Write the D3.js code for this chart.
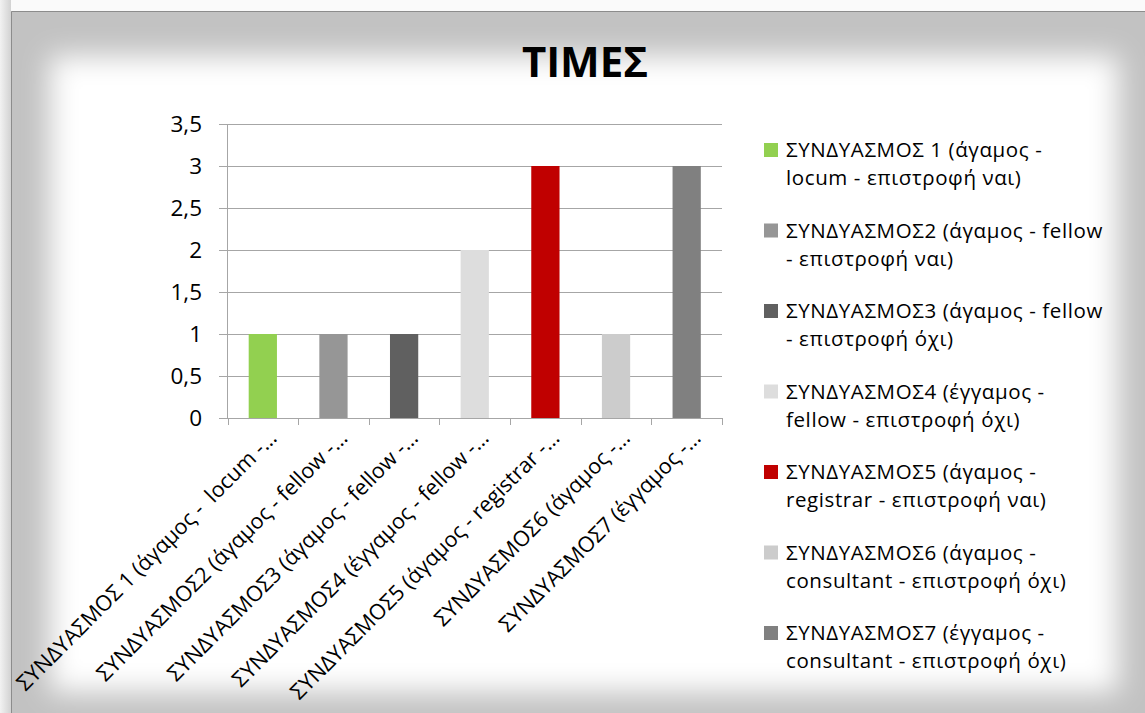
<!DOCTYPE html>
<html>
<head>
<meta charset="utf-8">
<script src="https://cdn.jsdelivr.net/npm/d3@7"></script>
<style>
  body { margin: 0; background: #fff; }
  svg { display: block; font-family: "Open Sans", "Noto Sans", sans-serif; }
</style>
</head>
<body>
<div id="chart"></div>
<script>
const W = 1145, H = 713;

// données
const categories = [
  "ΣΥΝΔΥΑΣΜΟΣ 1 (άγαμος -  locum -…",
  "ΣΥΝΔΥΑΣΜΟΣ2 (άγαμος - fellow -…",
  "ΣΥΝΔΥΑΣΜΟΣ3 (άγαμος - fellow -…",
  "ΣΥΝΔΥΑΣΜΟΣ4 (έγγαμος - fellow -…",
  "ΣΥΝΔΥΑΣΜΟΣ5 (άγαμος - registrar -…",
  "ΣΥΝΔΥΑΣΜΟΣ6 (άγαμος -…",
  "ΣΥΝΔΥΑΣΜΟΣ7 (έγγαμος -…"
];
const values = [1, 1, 1, 2, 3, 1, 3];
const colors = ["#92D050", "#969696", "#606060", "#DDDDDD", "#C00000", "#CCCCCC", "#808080"];
const legendLabels = [
  ["ΣΥΝΔΥΑΣΜΟΣ 1 (άγαμος -", "locum - επιστροφή ναι)"],
  ["ΣΥΝΔΥΑΣΜΟΣ2 (άγαμος - fellow", "- επιστροφή ναι)"],
  ["ΣΥΝΔΥΑΣΜΟΣ3 (άγαμος - fellow", "- επιστροφή όχι)"],
  ["ΣΥΝΔΥΑΣΜΟΣ4 (έγγαμος -", "fellow - επιστροφή όχι)"],
  ["ΣΥΝΔΥΑΣΜΟΣ5 (άγαμος -", "registrar - επιστροφή ναι)"],
  ["ΣΥΝΔΥΑΣΜΟΣ6 (άγαμος -", "consultant - επιστροφή όχι)"],
  ["ΣΥΝΔΥΑΣΜΟΣ7 (έγγαμος -", "consultant - επιστροφή όχι)"]
];
const yTicks = [0, 0.5, 1, 1.5, 2, 2.5, 3, 3.5];
const title = "ΤΙΜΕΣ";

const svg = d3.select("#chart").append("svg")
  .attr("width", W)
  .attr("height", H);

// cadre avec ombre intérieure
const defs = svg.append("defs");
defs.append("filter").attr("id", "soft")
  .attr("x", "-10%").attr("y", "-10%").attr("width", "120%").attr("height", "120%")
  .append("feGaussianBlur").attr("stdDeviation", 14);
const side = defs.append("linearGradient").attr("id", "side");
side.append("stop").attr("offset", "0%").attr("stop-color", "#f2f2f2");
side.append("stop").attr("offset", "100%").attr("stop-color", "#d2d2d2");

svg.append("rect").attr("width", W).attr("height", H).attr("fill", "#fafafa");
svg.append("rect").attr("x", 0).attr("y", 0).attr("width", 11).attr("height", H).attr("fill", "url(#side)");
svg.append("rect").attr("x", 11).attr("y", 11).attr("width", W).attr("height", H)
  .attr("fill", "#c2c2c2");
svg.append("rect").attr("x", 50).attr("y", 56).attr("width", 1068).attr("height", 636)
  .attr("fill", "#fff").attr("filter", "url(#soft)");
svg.append("path")
  .attr("d", `M11.5,${H} V11.5 H${W}`)
  .attr("fill", "none").attr("stroke", "#8c8c8c").attr("stroke-width", 1);

// échelles
const x = d3.scaleBand()
  .domain(categories)
  .range([227.5, 722])
  .paddingInner(0.6)
  .paddingOuter(0.3);
const y = d3.scaleLinear().domain([0, 3.5]).range([418, 124]);

const plot = svg.append("g");

// grille + graduations de l'axe Y
plot.selectAll(".grid").data(yTicks).join("line")
  .attr("x1", 219).attr("x2", 722)
  .attr("y1", d => Math.round(y(d)) + 0.5).attr("y2", d => Math.round(y(d)) + 0.5)
  .attr("stroke", "#a6a6a6").attr("stroke-width", 1);

plot.selectAll(".ylab").data(yTicks).join("text")
  .attr("x", 202).attr("y", d => y(d))
  .attr("dy", "0.36em")
  .attr("text-anchor", "end")
  .attr("font-size", 22.5)
  .attr("fill", "#000")
  .text(d => String(d).replace(".", ","));

// barres
plot.selectAll(".bar").data(values).join("rect")
  .attr("x", (d, i) => x(categories[i]))
  .attr("y", d => y(d))
  .attr("width", x.bandwidth())
  .attr("height", d => y(0) - y(d))
  .attr("fill", (d, i) => colors[i]);

// axes
plot.append("line")
  .attr("x1", 227.5).attr("x2", 227.5).attr("y1", 124).attr("y2", 418)
  .attr("stroke", "#a6a6a6");
const step = x.step();
const bounds = d3.range(categories.length + 1).map(i => 227.5 + i * step);
plot.selectAll(".xtick").data(bounds).join("line")
  .attr("x1", d => Math.round(d) + 0.5).attr("x2", d => Math.round(d) + 0.5)
  .attr("y1", 418).attr("y2", 425)
  .attr("stroke", "#a6a6a6");

// étiquettes de catégories inclinées
plot.selectAll(".xlab").data(categories).join("text")
  .attr("transform", d => `translate(${x(d) + x.bandwidth() / 2 + 10},434) rotate(-45)`)
  .attr("text-anchor", "end")
  .attr("dy", "0.35em")
  .attr("font-size", 21.5)
  .attr("fill", "#000")
  .style("white-space", "pre")
  .text(d => d);

// titre
svg.append("text")
  .attr("x", 585).attr("y", 77)
  .attr("text-anchor", "middle")
  .attr("font-size", 42)
  .attr("font-weight", "bold")
  .attr("fill", "#000")
  .text(title);

// légende
const legend = svg.append("g");
const items = legend.selectAll(".item").data(legendLabels).join("g")
  .attr("transform", (d, i) => `translate(764,${150 + i * 80.5})`);
items.append("rect")
  .attr("x", 0).attr("y", -7).attr("width", 14).attr("height", 14)
  .attr("fill", (d, i) => colors[i]);
items.each(function(d) {
  const g = d3.select(this);
  d.forEach((line, k) => {
    g.append("text")
      .attr("x", 22).attr("y", k * 28)
      .attr("dy", "0.36em")
      .attr("font-size", 20.5)
      .attr("letter-spacing", 0.6)
      .attr("fill", "#000")
      .text(line);
  });
});
</script>
</body>
</html>
